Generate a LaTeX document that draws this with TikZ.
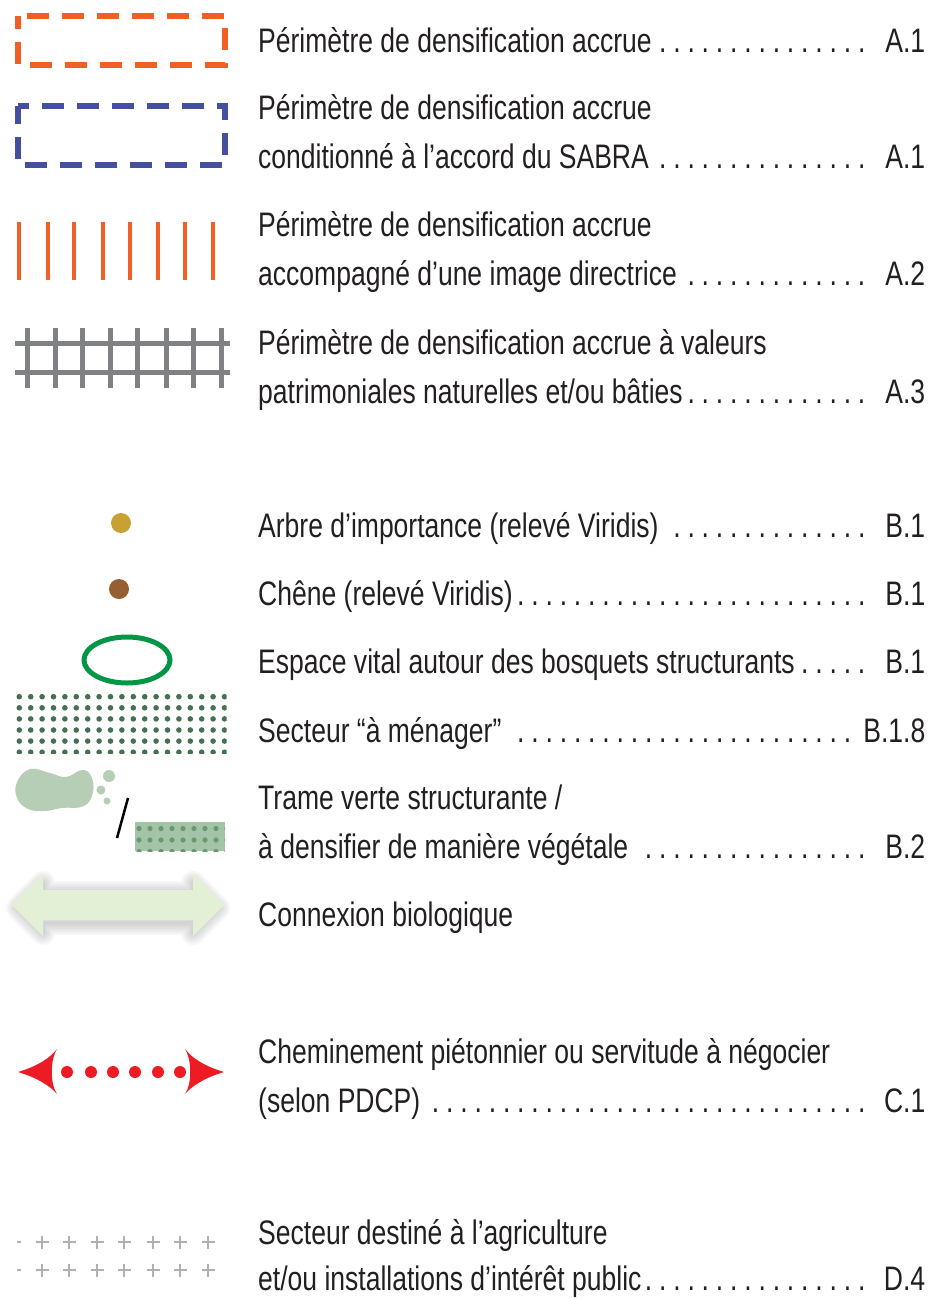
\documentclass[tikz,border=0pt]{standalone}
\usepackage{fontspec}
\setmainfont{Liberation Sans}[FakeStretch=0.78]
\usepackage{tikz}
\usetikzlibrary{arrows.meta, positioning, calc}
\definecolor{LegText}{RGB}{35,31,32}
\definecolor{LegOrange}{RGB}{242,95,37}
\definecolor{LegBlue}{RGB}{68,79,160}
\definecolor{LegGrey}{RGB}{128,129,132}
\definecolor{LegGold}{RGB}{201,161,51}
\definecolor{LegBrown}{RGB}{150,94,51}
\definecolor{LegGreen}{RGB}{0,150,70}
\definecolor{LegDotGreen}{RGB}{70,112,82}
\definecolor{LegBlob}{RGB}{182,206,182}
\definecolor{LegPatch}{RGB}{163,196,166}
\definecolor{LegPatchDot}{RGB}{104,152,112}
\definecolor{LegArrow}{RGB}{228,240,214}
\definecolor{LegRed}{RGB}{237,28,36}
\definecolor{LegPlus}{RGB}{175,177,185}
\newcommand{\leaderline}[2]{\makebox[667pt][l]{#1\leaders\hbox to 14.2pt{\hss.\hss}\hfill\hspace{6pt}#2}}

\begin{document}
\begin{tikzpicture}[x=1pt, y=-1pt]

\tikzset{
legtxt/.style={
anchor=base west,
inner sep=0pt,
text=LegText,
font=\fontsize{34}{49}\selectfont
},
perimbox/.style args={#1}{
draw=#1,
line width=6.5pt,
dash pattern=on 22pt off 13pt
}
}

\useasboundingbox (0,0) rectangle (931,1299);

\draw[perimbox=LegOrange, dash phase=9pt] (18,16) rectangle (225,65);
\draw[perimbox=LegBlue, dash phase=4pt] (18,106) rectangle (225,165);

\foreach \x in {19,48,74,103,130,158,185,213}
\draw[LegOrange, line width=4pt] (\x,222) -- (\x,280);

\foreach \y in {343,372}
\draw[LegGrey, line width=5pt] (15,\y) -- (230,\y);
\foreach \x in {27,55,82,110,137,166,193,221}
\draw[LegGrey, line width=5pt] (\x,328) -- (\x,388);

\fill[LegGold] (121,523) circle (10);
\fill[LegBrown] (119,589) circle (10);
\draw[LegGreen, line width=5pt] (127,660) ellipse (43 and 23);

\begin{scope}
\clip (15,690) rectangle (226.5,753.5);
\foreach \i in {0,...,18}
\foreach \j in {0,...,5}
\fill[LegDotGreen] (19.3+\i*11.4, 696.7+\j*11.1) circle (2.8);
\end{scope}

\fill[LegBlob] plot[smooth cycle, tension=0.7] coordinates {(17,782) (30,769) (50,773) (66,777) (82,770) (91,776) (93,792) (84,806) (62,808) (45,811) (28,809) (17,798)};
\fill[LegBlob] (109,776) circle (6);
\fill[LegBlob] (101,790) circle (4.5);
\fill[LegBlob] (107,801) circle (3.5);
\draw[black, line width=2.5pt] (117,838) -- (128,798);
\begin{scope}
\clip (135,822) rectangle (225,851);
\fill[LegPatch] (135,822) rectangle (225,851);
\foreach \i in {0,...,8}
\foreach \j in {0,...,2}
\fill[LegPatchDot] (139+\i*11, 828.5+\j*11.5) circle (2.6);
\end{scope}

\foreach \w in {24,20,...,4}
\draw[black, opacity=0.03, line width=\w pt, line join=round] (18,908) -- (43,883) -- (43,893) -- (193,893) -- (193,883) -- (218,908) -- (193,933) -- (193,923) -- (43,923) -- (43,933) -- cycle;
\fill[LegArrow] (12,905) -- (43,874) -- (43,890) -- (193,890) -- (193,874) -- (224,905) -- (193,936) -- (193,920) -- (43,920) -- (43,936) -- cycle;

\fill[LegRed] (18,1072) .. controls (38,1066) and (50,1058) .. (57,1049) .. controls (50,1060) and (50,1084) .. (57,1094) .. controls (50,1086) and (38,1078) .. (18,1072) -- cycle;
\fill[LegRed] (224,1072) .. controls (204,1066) and (192,1058) .. (185,1049) .. controls (192,1060) and (192,1084) .. (185,1094) .. controls (192,1086) and (204,1078) .. (224,1072) -- cycle;
\foreach \x in {67,91,113,135,158,180}
\fill[LegRed] (\x,1072) circle (6);

\foreach \y in {1242,1270} {
\draw[LegPlus, line width=1.3pt] (17,\y) -- (21,\y);
\foreach \x in {42,69,97,124,153,180,208}
\draw[LegPlus, line width=1.3pt] ({\x-6.5},\y) -- ({\x+6.5},\y) (\x,{\y-6.5}) -- (\x,{\y+6.5});
}

\node[legtxt] (perim) at (258,52) {\leaderline{Périmètre de densification accrue}{A.1}};
\node[legtxt] (sabraA) at (258,119) {Périmètre de densification accrue};
\node[legtxt] (sabraB) at (258,168) {\leaderline{conditionné à l’accord du SABRA}{A.1}};
\node[legtxt] (imageA) at (258,236) {Périmètre de densification accrue};
\node[legtxt] (imageB) at (258,285) {\leaderline{accompagné d’une image directrice}{A.2}};
\node[legtxt] (patriA) at (258,354) {Périmètre de densification accrue à valeurs};
\node[legtxt] (patriB) at (258,403) {\leaderline{patrimoniales naturelles et/ou bâties}{A.3}};
\node[legtxt] (arbre) at (258,537) {\leaderline{Arbre d’importance (relevé Viridis)}{B.1}};
\node[legtxt] (chene) at (258,605) {\leaderline{Chêne (relevé Viridis)}{B.1}};
\node[legtxt] (espace) at (258,673) {\leaderline{Espace vital autour des bosquets structurants}{B.1}};
\node[legtxt] (menager) at (258,742) {\leaderline{Secteur “à ménager”}{B.1.8}};
\node[legtxt] (trameA) at (258,809) {Trame verte structurante /};
\node[legtxt] (trameB) at (258,858) {\leaderline{à densifier de manière végétale}{B.2}};
\node[legtxt] (connex) at (258,926) {Connexion biologique};
\node[legtxt] (chemA) at (258,1063) {Cheminement piétonnier ou servitude à négocier};
\node[legtxt] (chemB) at (258,1112) {\leaderline{(selon PDCP)}{C.1}};
\node[legtxt] (agriA) at (258,1244) {Secteur destiné à l’agriculture};
\node[legtxt] (agriB) at (258,1290) {\leaderline{et/ou installations d’intérêt public}{D.4}};

\end{tikzpicture}
\end{document}
